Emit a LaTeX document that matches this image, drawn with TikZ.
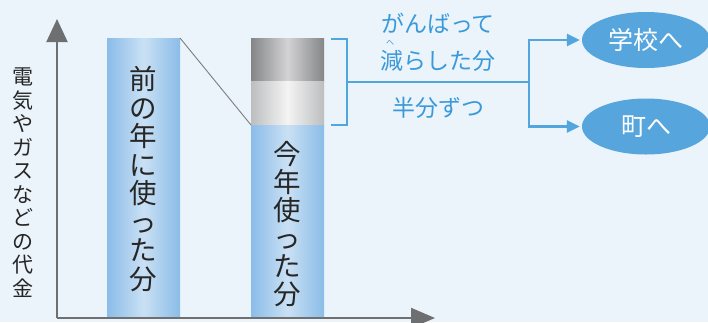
\documentclass[tikz,border=0pt]{standalone}
\usepackage{fontspec}
\setmainfont{Noto Sans CJK JP}
\usetikzlibrary{arrows.meta,shapes.geometric}
\definecolor{bg}{HTML}{EBF3FB}
\definecolor{axisgray}{HTML}{6E6F71}
\definecolor{bedge}{HTML}{8BBCE8}
\definecolor{bmid}{HTML}{C9E0F4}
\definecolor{gdark}{HTML}{858688}
\definecolor{gdarkmid}{HTML}{D3D3D5}
\definecolor{glight}{HTML}{BDBEC0}
\definecolor{glightmid}{HTML}{F4F4F4}
\definecolor{lineblue}{HTML}{52A6DE}
\definecolor{textblue}{HTML}{3A9AD9}
\definecolor{ellblue}{HTML}{56A6DD}
\tikzset{
  barbox/.style={rectangle,inner sep=0pt,outer sep=0pt,anchor=north west},
  bluebar/.style={barbox,left color=bedge,right color=bedge,middle color=bmid},
  darkbar/.style={barbox,left color=gdark,right color=gdark,middle color=gdarkmid},
  lightbar/.style={barbox,left color=glight,right color=glight,middle color=glightmid},
  axisline/.style={draw=axisgray,line width=2pt},
  conn/.style={draw=lineblue,line width=2.5pt},
  tip/.style={-{Triangle[length=13pt,width=12pt]}},
  ell/.style={ellipse,fill=ellblue,minimum width=128pt,minimum height=56pt,inner sep=0pt,text=white,font=\fontsize{25}{28}\selectfont},
  vlabel/.style={align=center,inner sep=0pt,text=black!85},
  bluetext/.style={text=textblue,inner sep=0pt,font=\fontsize{23}{26}\selectfont}
}
\begin{document}
\begin{tikzpicture}[x=1pt,y=-1pt]
\fill[bg] (0,0) rectangle (708,322);
\useasboundingbox (0,0) rectangle (708,322);
% bars
\node[bluebar,minimum width=73pt,minimum height=280pt] (lbar) at (107,38) {};
\node[darkbar,minimum width=73pt,minimum height=43pt] (rdark) at (251,38) {};
\node[lightbar,minimum width=73pt,minimum height=44pt] (rlight) at (251,81) {};
\node[bluebar,minimum width=73pt,minimum height=193pt] (rblue) at (251,125) {};
\draw[axisgray!90,line width=0.9pt] (lbar.north east) -- (rblue.north west);
% bar texts
\node[vlabel,font=\fontsize{27.5}{28.5}\selectfont] (ltext) at (143.5,179) {前\\の\\年\\に\\使\\っ\\た\\分};
\node[vlabel,font=\fontsize{27.5}{28}\selectfont] (rtext) at (287.5,224) {今\\年\\使\\っ\\た\\分};
\node[vlabel,font=\fontsize{21}{23.5}\selectfont] (ylabel) at (23,182.5) {電\\気\\や\\ガ\\ス\\な\\ど\\の\\代\\金};
% axes
\coordinate (o) at (57,318);
\coordinate (ytop) at (57,19);
\coordinate (xend) at (435,318);
\draw[axisline,-{Triangle[length=23pt,width=21pt]}] (o) -- (ytop);
\draw[axisline,-{Triangle[length=24pt,width=20pt]}] (o) -- (xend);
% bracket
\coordinate (b1) at (331,39);
\coordinate (b2) at (347,39);
\coordinate (b3) at (347,125);
\coordinate (b4) at (331,125);
\coordinate (bm) at (347,82);
\coordinate (j) at (529,82);
\draw[conn,line cap=butt] (b1) -- (b2) -- (b3) -- (b4);
\draw[conn] (bm) -- (j);
% ellipses
\node[ell] (e1) at (646,40) {学校へ};
\node[ell] (e2) at (646,126.5) {町へ};
\draw[conn,tip,shorten >=2pt] (j) |- (e1.west);
\draw[conn,tip,shorten >=2pt] (j) |- (e2.west);
% labels
\node[bluetext] (t1) at (438,23) {がんばって};
\node[bluetext] (t2) at (438,61) {減らした分};
\node[text=textblue,inner sep=0pt,font=\fontsize{8}{8}\selectfont] (ruby) at (390,43) {へ};
\node[bluetext] (t3) at (438,107.5) {半分ずつ};
\end{tikzpicture}
\end{document}
